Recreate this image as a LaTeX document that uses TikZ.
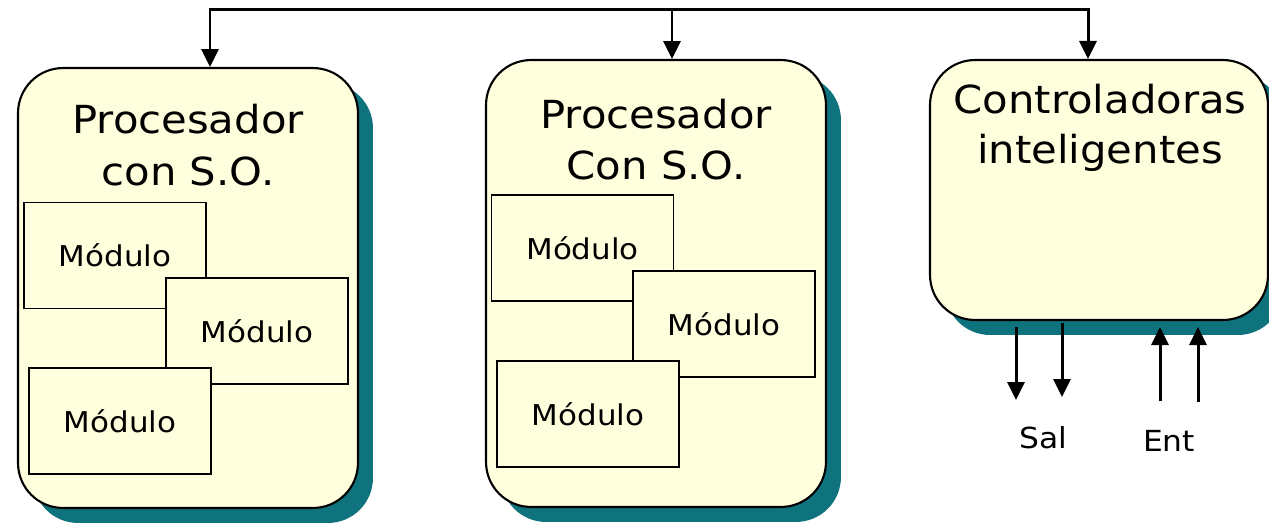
\documentclass[tikz,border=0pt]{standalone}
\usepackage{fontspec}
\setmainfont{DejaVu Sans}[FakeStretch=1.08]
\usetikzlibrary{arrows.meta,shadows}
\definecolor{boxfill}{RGB}{255,255,222}
\definecolor{shadowteal}{RGB}{14,115,125}
\tikzset{
  bigbox/.style={draw=black, line width=1.2pt, fill=boxfill, rounded corners=0.9cm, inner sep=0pt,
    drop shadow={shadow xshift=0.3cm, shadow yshift=-0.3cm, fill=shadowteal, opacity=1}},
  modbox/.style={draw=black, line width=1.1pt, fill=boxfill, inner sep=0pt,
    minimum width=3.64cm, minimum height=2.12cm, font=\fontsize{16.3}{19}\selectfont},
  title/.style={anchor=base, inner sep=0pt, font=\fontsize{22}{26}\selectfont},
  iolabel/.style={anchor=base, inner sep=0pt, font=\fontsize{16.5}{19}\selectfont},
  arr/.style={line width=1.7pt, -{Triangle[width=0.34cm,length=0.36cm]}},
  bus/.style={line width=1.7pt}
}
\begin{document}
\begin{tikzpicture}[x=0.02cm,y=-0.02cm]
\useasboundingbox (0,0) rectangle (1269,522);
% big boxes
\node[bigbox, minimum width=6.8cm, minimum height=8.8cm] (b1) at (188,288) {};
\node[bigbox, minimum width=6.8cm, minimum height=8.94cm] (b2) at (656,283.5) {};
\node[bigbox, minimum width=6.76cm, minimum height=5.2cm] (b3) at (1099,190) {};
% titles
\node[title] (t1a) at (188,133) {Procesador};
\node[title] (t1b) at (188,185) {con S.O.};
\node[title] (t2a) at (656,128) {Procesador};
\node[title] (t2b) at (656,179) {Con S.O.};
\node[title] (t3a) at (1100,113) {Controladoras};
\node[title] (t3b) at (1100,163) {inteligentes};
% modules box 1
\node[modbox] (m11) at (115,255.5) {Módulo};
\node[modbox] (m12) at (257,331) {Módulo};
\node[modbox] (m13) at (120,421) {Módulo};
% modules box 2
\node[modbox] (m21) at (582.5,248) {Módulo};
\node[modbox] (m22) at (724,324) {Módulo};
\node[modbox] (m23) at (588,414) {Módulo};
% top bus
\coordinate (j1) at (210,9);
\coordinate (j2) at (672,9);
\coordinate (j3) at (1088,9);
\draw[bus, line cap=rect] (j1) -- (j3);
\draw[arr] (j1) -- (j1 |- b1.north);
\draw[arr] (j2) -- (j2 |- b2.north);
\draw[arr] (j3) -- (j3 |- b3.north);
% outputs / inputs
\coordinate (s1) at (1016,400);
\coordinate (s2) at (1062,397);
\coordinate (e1) at (1160,401);
\coordinate (e2) at (1198,402);
\coordinate (e1t) at (1160,327);
\coordinate (e2t) at (1198,327);
\draw[arr] (s1 |- b3.south) ++(0,6) -- (s1);
\draw[arr] (s2 |- b3.south) ++(0,2) -- (s2);
\draw[arr] (e1) -- (e1t);
\draw[arr] (e2) -- (e2t);
\node[iolabel] (sal) at (1043,448) {Sal};
\node[iolabel] (ent) at (1169,451) {Ent};
\end{tikzpicture}
\end{document}
